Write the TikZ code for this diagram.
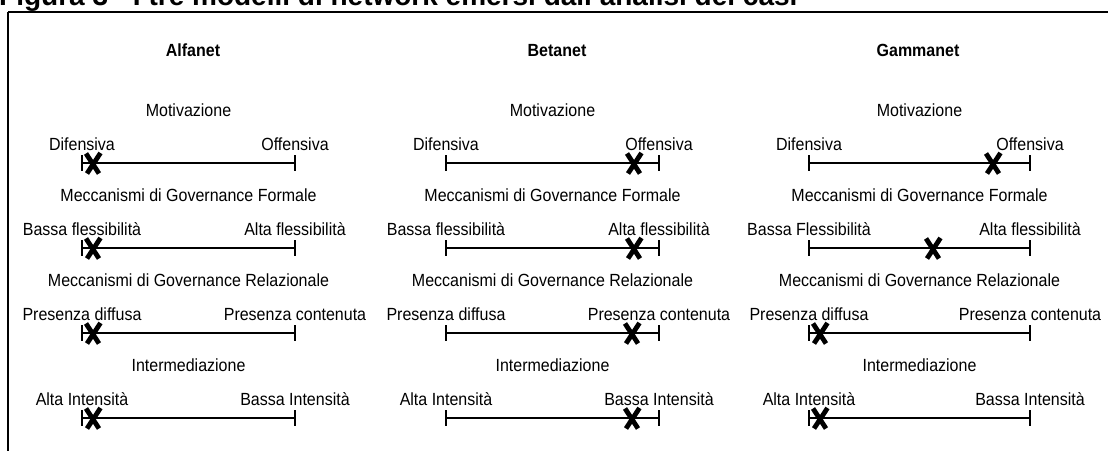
\documentclass[tikz,border=0pt]{standalone}
\usepackage{fontspec}
\setmainfont{Liberation Sans}
\usetikzlibrary{calc}
\tikzset{
  bar/.style={line width=2pt},
  lbl/.style={font=\fontsize{16}{18}\selectfont, inner sep=0pt, anchor=base, yscale=1.1, transform shape},
  hdr/.style={font=\bfseries\fontsize{16}{18}\selectfont, inner sep=0pt, anchor=base, yscale=1.1, transform shape},
  ttl/.style={font=\bfseries\fontsize{28}{30}\selectfont, inner sep=0pt, anchor=base west},
  frame/.style={line width=2.5pt},
  xmark/.pic={\draw[line width=4.8pt] (-7pt,9.5pt) -- (6pt,-10.5pt) (7.5pt,10pt) -- (-6pt,-10.5pt);}
}
% #1 name, #2 left x, #3 right x, #4 line y (px from top), #5 left label, #6 right label, #7 cross x, #8 caption
\newcommand\scalebar[8]{%
  \coordinate (#1l) at (#2,-#4);
  \coordinate (#1r) at (#3,-#4);
  \coordinate (#1m) at ($(#1l)!0.5!(#1r)$);
  \draw[bar] (#1l) -- (#1r);
  \draw[bar] ([yshift=8pt]#1l) -- ([yshift=-8pt]#1l);
  \draw[bar] ([yshift=8pt]#1r) -- ([yshift=-8pt]#1r);
  \node[lbl] (#1lt) at ([yshift=13pt]#1l) {#5};
  \node[lbl] (#1rt) at ([yshift=13pt]#1r) {#6};
  \node[lbl] (#1c) at ([yshift=47pt]#1m) {#8};
  \coordinate (#1x) at (#7,-#4);
  \pic at (#1x) {xmark};
}
\begin{document}
\begin{tikzpicture}[x=1pt,y=1pt]
\useasboundingbox (0,0) rectangle (1108,-450);
\node[ttl] (title) at (-1,-5.5) {Figura 3 - I tre modelli di network emersi dall'analisi dei casi};
\draw[frame] (8,-12) -- (1120,-12);
\draw[frame] (8,-12) -- (8,-460);
% headers
\node[hdr] (ha) at (193,-56) {Alfanet};
\node[hdr] (hb) at (557,-56) {Betanet};
\node[hdr] (hc) at (918,-56) {Gammanet};
% Alfanet
\scalebar{a1}{82}{295}{163}{Difensiva}{Offensiva}{93}{Motivazione}
\scalebar{a2}{82}{295}{248}{Bassa flessibilità}{Alta flessibilità}{93}{Meccanismi di Governance Formale}
\scalebar{a3}{82}{295}{333}{Presenza diffusa}{Presenza contenuta}{93}{Meccanismi di Governance Relazionale}
\scalebar{a4}{82}{295}{418}{Alta Intensità}{Bassa Intensità}{93}{Intermediazione}
% Betanet
\scalebar{b1}{446}{659}{163}{Difensiva}{Offensiva}{634}{Motivazione}
\scalebar{b2}{446}{659}{248}{Bassa flessibilità}{Alta flessibilità}{634}{Meccanismi di Governance Formale}
\scalebar{b3}{446}{659}{333}{Presenza diffusa}{Presenza contenuta}{632}{Meccanismi di Governance Relazionale}
\scalebar{b4}{446}{659}{418}{Alta Intensità}{Bassa Intensità}{632}{Intermediazione}
% Gammanet
\scalebar{c1}{809}{1030}{163}{Difensiva}{Offensiva}{993}{Motivazione}
\scalebar{c2}{809}{1030}{248}{Bassa Flessibilità}{Alta flessibilità}{933}{Meccanismi di Governance Formale}
\scalebar{c3}{809}{1030}{333}{Presenza diffusa}{Presenza contenuta}{820}{Meccanismi di Governance Relazionale}
\scalebar{c4}{809}{1030}{418}{Alta Intensità}{Bassa Intensità}{820}{Intermediazione}
\end{tikzpicture}
\end{document}
